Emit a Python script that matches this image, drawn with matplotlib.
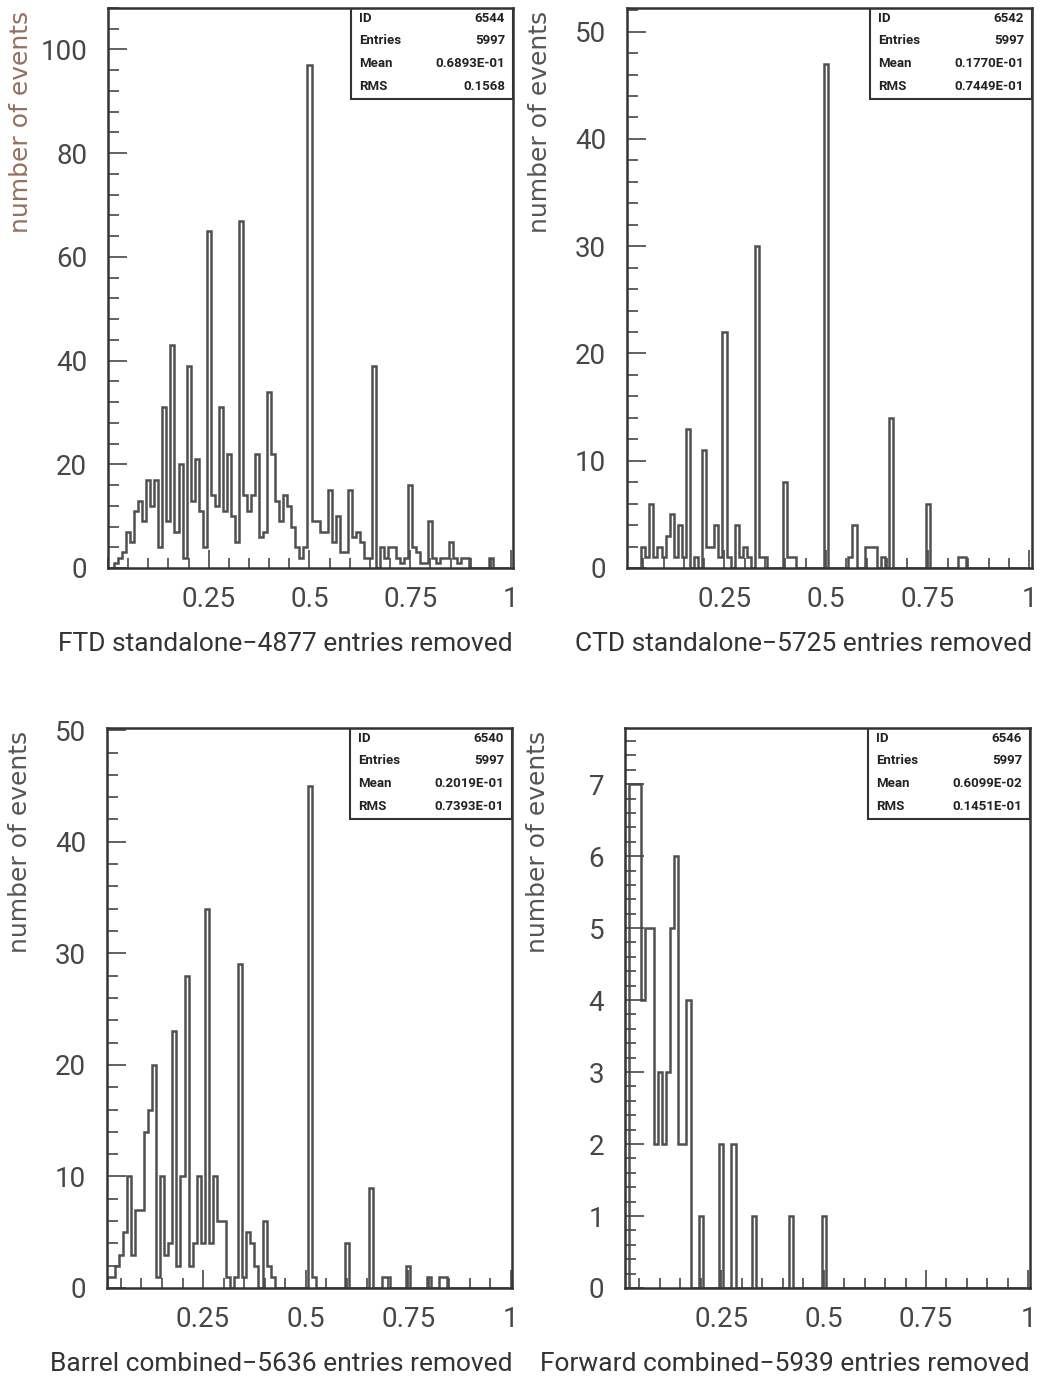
import numpy as np
import matplotlib
matplotlib.use("Agg")
import matplotlib.pyplot as plt
from matplotlib.patches import Rectangle
from matplotlib.ticker import MultipleLocator, FixedLocator

# counts per 0.01 bin, bins centred on k/100
ftd_counts = [0, 0, 1, 2, 3, 7, 5, 11, 13, 9,
              17, 12, 17, 4, 31, 9, 43, 7, 20, 2,
              39, 13, 21, 11, 4, 65, 14, 12, 31, 11,
              22, 10, 5, 67, 14, 11, 14, 22, 6, 7,
              34, 22, 13, 9, 14, 12, 8, 4, 2, 4,
              97, 9, 9, 7, 7, 15, 5, 10, 3, 3,
              15, 6, 7, 5, 2, 2, 39, 0, 4, 2,
              4, 4, 2, 1, 2, 16, 4, 3, 1, 1,
              9, 2, 1, 2, 2, 5, 2, 1, 2, 2,
              0, 0, 0, 0, 0, 2, 0, 0, 0, 0]
ctd_counts = [0, 0, 0, 0, 0, 2, 1, 6, 1, 2,
              1, 3, 5, 1, 4, 1, 13, 0, 1, 0,
              11, 2, 2, 4, 1, 22, 1, 0, 4, 1,
              2, 1, 0, 30, 1, 1, 0, 0, 0, 0,
              8, 1, 1, 0, 0, 0, 0, 0, 0, 0,
              47, 0, 0, 0, 0, 0, 1, 4, 0, 0,
              2, 2, 2, 0, 1, 0, 14, 0, 0, 0,
              0, 0, 0, 0, 0, 6, 0, 0, 0, 0,
              0, 0, 0, 1, 1, 0, 0, 0, 0, 0,
              0, 0, 0, 0, 0, 0, 0, 0, 0, 0]
barrel_counts = [0, 0, 1, 1, 2, 3, 5, 10, 3, 7,
                 7, 14, 16, 20, 1, 10, 3, 4, 23, 2,
                 10, 28, 2, 4, 10, 4, 34, 4, 10, 6,
                 6, 1, 0, 1, 29, 1, 5, 4, 2, 0,
                 6, 2, 1, 0, 0, 0, 0, 0, 0, 0,
                 0, 45, 1, 0, 0, 0, 0, 0, 0, 0,
                 4, 0, 0, 0, 0, 0, 9, 0, 0, 1,
                 1, 0, 0, 0, 0, 2, 0, 0, 0, 0,
                 1, 0, 0, 1, 1, 0, 0, 0, 0, 0,
                 0, 0, 0, 0, 0, 0, 0, 0, 0, 0]
forward_counts = [0, 0, 0, 7, 7, 7, 4, 5, 5, 2,
                  3, 2, 3, 5, 6, 2, 2, 4, 0, 0,
                  1, 0, 0, 0, 0, 2, 0, 0, 2, 0,
                  0, 0, 0, 1, 0, 0, 0, 0, 0, 0,
                  0, 0, 1, 0, 0, 0, 0, 0, 0, 0,
                  1, 0, 0, 0, 0, 0, 0, 0, 0, 0,
                  0, 0, 0, 0, 0, 0, 0, 0, 0, 0,
                  0, 0, 0, 0, 0, 0, 0, 0, 0, 0,
                  0, 0, 0, 0, 0, 0, 0, 0, 0, 0,
                  0, 0, 0, 0, 0, 0, 0, 0, 0, 0]

stat_names = ["ID", "Entries", "Mean", "RMS"]
ftd_stats = ["6544", "5997", "0.6893E-01", "0.1568"]
ctd_stats = ["6542", "5997", "0.1770E-01", "0.7449E-01"]
barrel_stats = ["6540", "5997", "0.2019E-01", "0.7393E-01"]
forward_stats = ["6546", "5997", "0.6099E-02", "0.1451E-01"]

xlabels = ["FTD standalone\u22124877 entries removed",
           "CTD standalone\u22125725 entries removed",
           "Barrel combined\u22125636 entries removed",
           "Forward combined\u22125939 entries removed"]
xticks = [0.25, 0.5, 0.75, 1]
xticklabels = ["0.25", "0.5", "0.75", "1"]

edges = np.arange(101) / 100 - 0.005

W, H = 1041, 1384
fig = plt.figure(figsize=(W / 100, H / 100), dpi=100)

ink = "#474747"
lab_font = ["Roboto", "DejaVu Sans"]

panels = [
    # (left px, top px, counts, stats, xlabel, ylim top, y major, y minor, xlim, ylabel colour)
    (108, 8, ftd_counts, ftd_stats, xlabels[0], 108, 20, 4, (0.0, 1.005), "#94705f"),
    (627, 8, ctd_counts, ctd_stats, xlabels[1], 52.2, 10, 2, (0.01, 1.007), "#555555"),
    (107, 728, barrel_counts, barrel_stats, xlabels[2], 50.2, 10, 2, (0.016, 1.003), "#555555"),
    (625, 728, forward_counts, forward_stats, xlabels[3], 7.78, 1, 0.2, (0.015, 1.004), "#555555"),
]

for left, top, counts, stats, xlab, ytop, ymaj, ymin, xlim, ycol in panels:
    ax = fig.add_axes([left / W, 1 - (top + 560) / H, 405 / W, 560 / H])
    ax.stairs(counts, edges, color="#505050", lw=1.8)
    ax.set_xlim(*xlim)
    ax.set_ylim(0, ytop)

    ax.xaxis.set_major_locator(FixedLocator(xticks))
    ax.set_xticklabels(xticklabels)
    ax.xaxis.set_minor_locator(MultipleLocator(0.05))
    ax.yaxis.set_major_locator(MultipleLocator(ymaj))
    ax.yaxis.set_minor_locator(MultipleLocator(ymin))
    ax.tick_params(which="both", direction="in", colors=ink, width=1.2,
                   labelsize=20, labelcolor=ink)
    ax.tick_params(axis="x", which="major", length=13, pad=13)
    ax.tick_params(axis="x", which="minor", length=7)
    ax.tick_params(axis="y", which="major", length=14, pad=15)
    ax.tick_params(axis="y", which="minor", length=8)
    for lbl in ax.get_xticklabels() + ax.get_yticklabels():
        lbl.set_family(lab_font)
    for sp in ax.spines.values():
        sp.set_linewidth(1.8)
        sp.set_color("#333333")

    ax.text(1.0, -0.135, xlab, transform=ax.transAxes, ha="right", va="center",
            fontsize=19, color="#333333", family=lab_font)
    ax.text(-0.215, 0.995, "number of events", transform=ax.transAxes,
            rotation=90, ha="center", va="top", fontsize=18, color=ycol,
            family=["DejaVu Sans"])

    # statistics box
    bx0, by0 = 0.6, 0.838
    ax.add_patch(Rectangle((bx0, by0), 1 - bx0, 1 - by0, transform=ax.transAxes,
                           fill=False, lw=1.5, ec="#333333", zorder=5))
    for i, (name, val) in enumerate(zip(stat_names, stats)):
        yy = 0.982 - i * 0.0405
        ax.text(bx0 + 0.02, yy, name, transform=ax.transAxes, ha="left",
                va="center", fontsize=9.5, color="#222222", family=lab_font,
                weight="bold")
        ax.text(0.98, yy, val, transform=ax.transAxes, ha="right",
                va="center", fontsize=9.5, color="#222222", family=lab_font,
                weight="bold")

fig.savefig("out.png", dpi=100)
